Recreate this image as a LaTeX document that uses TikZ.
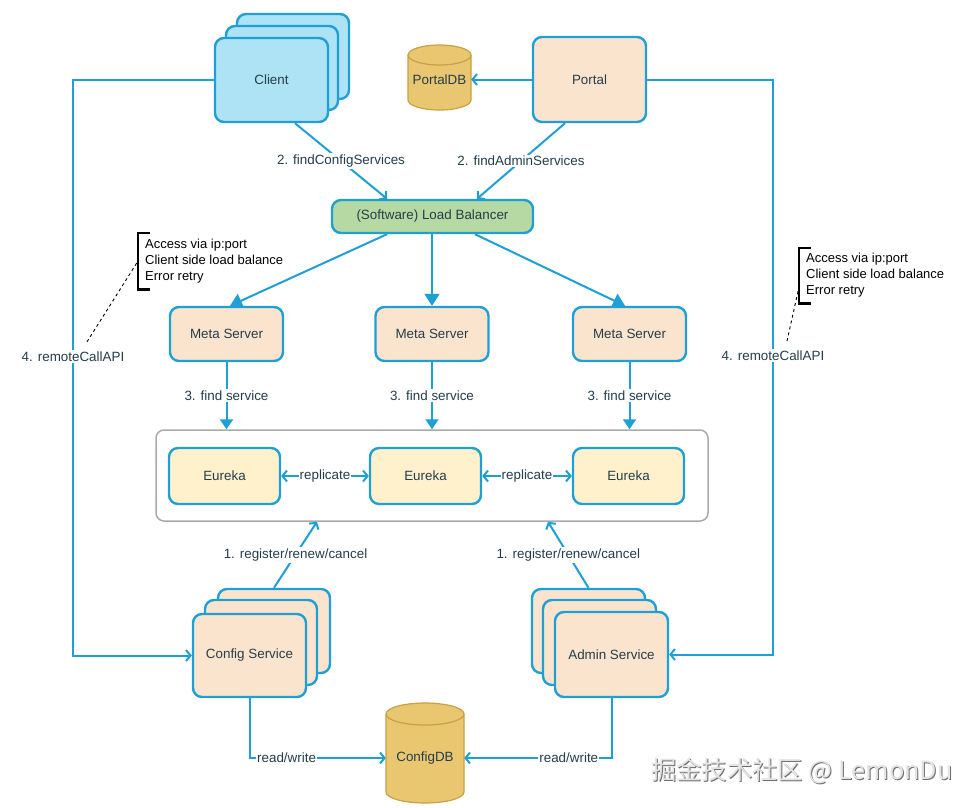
\documentclass[tikz,border=0pt]{standalone}
\usepackage{fontspec}
\setmainfont{Liberation Sans}
\newfontfamily\cjkfont{Noto Sans CJK SC}
\usetikzlibrary{arrows.meta,calc}
\definecolor{cyanline}{RGB}{30,160,215}
\definecolor{clientfill}{RGB}{174,227,246}
\definecolor{peachfill}{RGB}{251,228,206}
\definecolor{lbfill}{RGB}{182,217,163}
\definecolor{eurekafill}{RGB}{255,241,204}
\definecolor{dbfill}{RGB}{233,198,112}
\definecolor{dbline}{RGB}{200,160,70}
\definecolor{txt}{RGB}{36,62,76}
\definecolor{clusterline}{RGB}{170,170,170}
\definecolor{wmshadow}{RGB}{110,110,110}
\definecolor{wmface}{RGB}{228,228,228}
\newcommand\nf{\fontsize{13.4}{16}\selectfont}
\newcommand\af{\fontsize{13}{16}\selectfont}
\tikzset{
  box/.style={draw=cyanline, line width=2.4pt, rounded corners=9pt, inner sep=0pt, font=\nf, text=txt},
  peachbox/.style={box, fill=peachfill},
  clientbox/.style={box, fill=clientfill},
  eurekabox/.style={box, fill=eurekafill, minimum width=111, minimum height=56},
  metabox/.style={peachbox, minimum width=113, minimum height=54},
  conn/.style={draw=cyanline, line width=2pt, -{Straight Barb[length=4.5pt,width=11pt]}},
  biconn/.style={draw=cyanline, line width=2pt, {Straight Barb[length=4.5pt,width=11pt]}-{Straight Barb[length=4.5pt,width=11pt]}},
  bigconn/.style={draw=cyanline, line width=2pt, -{Triangle[length=12pt,width=15pt]}},
  midconn/.style={draw=cyanline, line width=2pt, -{Triangle[length=10pt,width=13pt]}},
  lbl/.style={fill=white, inner sep=1.5pt, font=\nf, text=txt},
  dbtext/.style={inner sep=0pt, font=\nf, text=txt},
  db/.style={fill=dbfill, draw=dbline, line width=1.2pt},
  notetext/.style={align=left, font=\af, text=black, inner xsep=7pt, inner ysep=0pt, minimum height=56},
  bracket/.style={draw=black, line width=2.6pt},
  dashlink/.style={draw=black, line width=0.9pt, dashed}
}
\begin{document}
\begin{tikzpicture}[x=1pt,y=-1pt]
\useasboundingbox[fill=white] (0,0) rectangle (975,807);

% ---- Client stack
\node[clientbox, minimum width=112, minimum height=85] (clientC) at (293,56.5) {};
\node[clientbox, minimum width=112, minimum height=84] (clientB) at (282,68) {};
\node[clientbox, minimum width=113, minimum height=84] (client) at (271.5,80) {Client};

% ---- Portal
\node[peachbox, minimum width=113, minimum height=85] (portal) at (589.5,79.5) {Portal};

% ---- PortalDB cylinder
\path[db] (408,55) -- (408,100) arc[start angle=180, end angle=0, x radius=31.5, y radius=10]
  -- (471,55) arc[start angle=0, end angle=-180, x radius=31.5, y radius=10] -- cycle;
\path[draw=dbline, line width=1.2pt] (408,55) arc[start angle=180, end angle=0, x radius=31.5, y radius=10];
\node[dbtext, minimum width=63] (pdb) at (439.5,80) {PortalDB};

% ---- Load balancer
\node[box, fill=lbfill, minimum width=201, minimum height=33] (lb) at (432.5,216.5) {(Software) Load Balancer};

% ---- Meta servers
\node[metabox] (meta1) at (226.5,334) {Meta Server};
\node[metabox] (meta2) at (432,334) {Meta Server};
\node[metabox] (meta3) at (629.5,334) {Meta Server};

% ---- Eureka cluster
\node[draw=clusterline, line width=1.5pt, rounded corners=8pt, minimum width=552, minimum height=91, inner sep=0pt] (cluster) at (432,475.5) {};
\node[eurekabox] (e1) at (224.5,476) {Eureka};
\node[eurekabox] (e2) at (425.5,476) {Eureka};
\node[eurekabox] (e3) at (628.5,476) {Eureka};

% ---- Config Service stack
\node[peachbox, minimum width=112, minimum height=84] (configC) at (274,631) {};
\node[peachbox, minimum width=112, minimum height=85] (configB) at (261,642.5) {};
\node[peachbox, minimum width=113, minimum height=83] (config) at (249.5,655.5) {Config Service};

% ---- Admin Service stack
\node[peachbox, minimum width=113, minimum height=84] (adminC) at (588.5,631) {};
\node[peachbox, minimum width=113, minimum height=85] (adminB) at (599.5,642.5) {};
\node[peachbox, minimum width=113, minimum height=85] (admin) at (611.5,654.5) {Admin Service};

% ---- ConfigDB cylinder
\path[db] (386,714) -- (386,792) arc[start angle=180, end angle=0, x radius=39, y radius=11]
  -- (464,714) arc[start angle=0, end angle=-180, x radius=39, y radius=11] -- cycle;
\path[draw=dbline, line width=1.2pt] (386,714) arc[start angle=180, end angle=0, x radius=39, y radius=11];
\node[dbtext, minimum width=78] (cdb) at (425,758) {ConfigDB};

% ---- helper coordinates
\coordinate (lx) at (73,0);
\coordinate (rx) at (773,0);

% ---- connectors
\draw[conn] ([xshift=23.5]client.south) -- ([xshift=-45.5]lb.north)
  node[lbl, midway] (l2a) {2. findConfigServices};
\draw[conn] ([xshift=-24.5]portal.south) -- ([xshift=44.5]lb.north)
  node[lbl, midway] (l2b) {2. findAdminServices};
\draw[conn] (portal.west) -- (portal.west -| pdb.east);

\draw[bigconn] ([xshift=-45.5]lb.south) -- ([xshift=3.5]meta1.north);
\draw[bigconn] (lb.south -| meta2.north) -- (meta2.north);
\draw[bigconn] ([xshift=42.5]lb.south) -- ([xshift=-4.5]meta3.north);

\draw[midconn] (meta1.south) -- (meta1.south |- cluster.north) node[lbl, midway] (l3a) {3. find service};
\draw[midconn] (meta2.south) -- (meta2.south |- cluster.north) node[lbl, midway] (l3b) {3. find service};
\draw[midconn] (meta3.south) -- (meta3.south |- cluster.north) node[lbl, midway] (l3c) {3. find service};

\draw[biconn] (e1.east) -- (e2.west) node[lbl, midway, inner sep=1pt] (rep1) {replicate};
\draw[biconn] (e2.east) -- (e3.west) node[lbl, midway, inner sep=1pt] (rep2) {replicate};

\draw[conn] (configC.north) -- ([xshift=-115]cluster.south)
  node[lbl, midway] (l1a) {1. register/renew/cancel};
\draw[conn] (adminC.north) -- ([xshift=116]cluster.south)
  node[lbl, midway] (l1b) {1. register/renew/cancel};

\draw[conn] (config.south) |- (cdb.west) node[lbl, pos=0.636, inner sep=1pt] (rw1) {read/write};
\draw[conn] (admin.south) |- (cdb.east) node[lbl, pos=0.645, inner sep=1pt] (rw2) {read/write};

\draw[conn] (client.west) -- (client.west -| lx) -- (lx |- config.west)
  node[lbl, pos=0.48] (rc1) {4. remoteCallAPI} -- (config.west);
\draw[conn] (portal.east) -- (portal.east -| rx) -- (rx |- admin.east)
  node[lbl, pos=0.48] (rc2) {4. remoteCallAPI} -- (admin.east);

% ---- notes
\node[notetext, anchor=west] (note1) at (138,261) {Access via ip:port\\Client side load balance\\Error retry};
\draw[bracket] ([xshift=12]note1.north west) -- (note1.north west) -- (note1.south west) -- ([xshift=12]note1.south west);
\draw[dashlink] ([xshift=14,yshift=7]rc1.north) -- (note1.west);

\node[notetext, anchor=west, minimum height=55] (note2) at (799,275.5) {Access via ip:port\\Client side load balance\\Error retry};
\draw[bracket] ([xshift=12]note2.north west) -- (note2.north west) -- (note2.south west) -- ([xshift=12]note2.south west);
\draw[dashlink] ([xshift=14,yshift=7]rc2.north) -- ([yshift=-11.5]note2.west);

% ---- watermark
\node[font=\cjkfont\fontsize{25.3}{27}\selectfont, text=wmshadow, inner sep=0pt] (wm1) at (803,772) {掘金技术社区 @ LemonDu};
\node[font=\cjkfont\fontsize{25.3}{27}\selectfont, text=wmface, inner sep=0pt] (wm2) at (802,771) {掘金技术社区 @ LemonDu};
\end{tikzpicture}
\end{document}
